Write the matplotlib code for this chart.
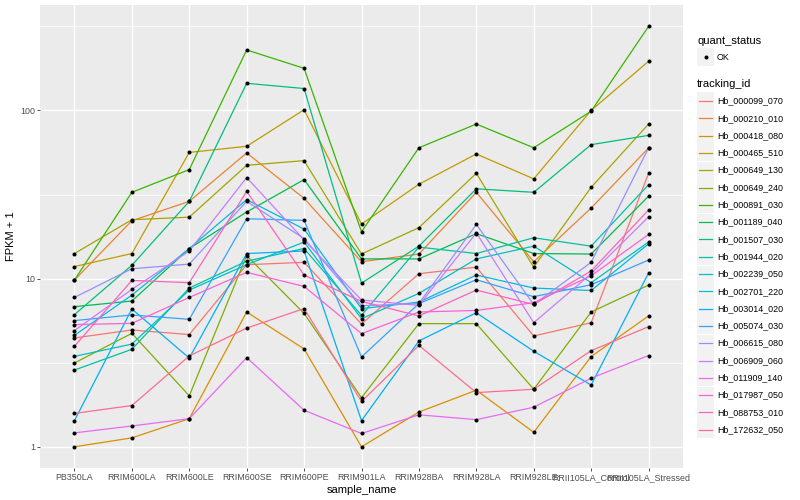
import numpy as np
import matplotlib.pyplot as plt
from matplotlib.patches import Rectangle
from matplotlib.lines import Line2D

plt.rcParams['font.family'] = ['Liberation Sans', 'DejaVu Sans']

samples = ['PB350LA', 'RRIM600LA', 'RRIM600LE', 'RRIM600SE', 'RRIM600PE', 'RRIM901LA',
           'RRIM928BA', 'RRIM928LA', 'RRIM928LE', 'RRII105LA_Control', 'RRII105LA_Stressed']

tracking_ids = ['Hb_000099_070', 'Hb_000210_010', 'Hb_000418_080', 'Hb_000465_510',
                'Hb_000649_130', 'Hb_000649_240', 'Hb_000891_030', 'Hb_001189_040',
                'Hb_001507_030', 'Hb_001944_020', 'Hb_002239_050', 'Hb_002701_220',
                'Hb_003014_020', 'Hb_005074_030', 'Hb_006615_080', 'Hb_006909_060',
                'Hb_011909_140', 'Hb_017987_050', 'Hb_088753_010', 'Hb_172632_050']

# ggplot default hue palette for 20 levels
colors = ['#F8766D', '#EA8331', '#D89000', '#C09B00', '#A3A500', '#7CAE00', '#39B600',
          '#00BB4E', '#00BF7D', '#00C1A3', '#00BFC4', '#00BAE0', '#00B0F6', '#35A2FF',
          '#9590FF', '#C77CFF', '#E76BF3', '#FA62DB', '#FF62BC', '#FF6C91']

# FPKM + 1 per sample
hb_000099_070 = [4.44, 4.95, 4.65, 12.1, 12.5, 5.37, 10.7, 11.7, 4.56, 5.47, 42.3]
hb_000210_010 = [9.8, 22.1, 28.8, 55.9, 30.0, 12.6, 14.0, 32.6, 12.6, 26.3, 59.8]
hb_000418_080 = [1.00, 1.13, 1.47, 6.33, 3.82, 1.00, 1.61, 2.17, 1.22, 3.44, 6.0]
hb_000465_510 = [11.8, 14.1, 56.3, 61.2, 101, 21.1, 36.4, 55.1, 39.2, 100, 196]
hb_000649_130 = [14.1, 22.4, 23.2, 47.2, 50.3, 14.0, 20.1, 42.3, 11.7, 34.9, 83]
hb_000649_240 = [3.15, 4.73, 2.01, 13.7, 6.21, 1.96, 5.40, 5.40, 2.20, 6.33, 9.15]
hb_000891_030 = [9.8, 32.6, 44.5, 229, 178, 19.0, 60, 83, 60, 99, 316]
hb_001189_040 = [6.81, 7.36, 15.1, 24.9, 38.8, 13.1, 13.1, 18.5, 14.1, 14.0, 30.9]
hb_001507_030 = [6.11, 12.0, 28.8, 145, 135, 9.4, 15.6, 34.2, 32.6, 62.6, 71.1]
hb_001944_020 = [2.86, 3.80, 8.79, 12.7, 15.1, 6.05, 15.4, 14.1, 17.5, 15.6, 36.2]
hb_002239_050 = [3.45, 4.08, 8.55, 12.1, 16.5, 5.78, 8.17, 13.1, 15.6, 9.46, 16.5]
hb_002701_220 = [4.60, 7.98, 15.1, 29.5, 19.7, 6.63, 7.25, 10.5, 8.79, 8.5, 16.1]
hb_003014_020 = [1.43, 6.60, 3.37, 14.1, 14.6, 1.43, 4.26, 6.27, 3.70, 2.33, 10.8]
hb_005074_030 = [5.63, 6.08, 5.73, 22.7, 22.2, 3.42, 7.11, 9.85, 7.81, 9.2, 12.9]
hb_006615_080 = [7.73, 11.45, 12.2, 28.8, 17.3, 6.9, 7.11, 21.0, 7.02, 12.5, 59.8]
hb_006909_060 = [4.91, 8.63, 14.6, 39.9, 17.0, 7.46, 6.93, 18.7, 5.47, 10.7, 23.3]
hb_011909_140 = [1.21, 1.33, 1.47, 3.39, 1.65, 1.20, 1.55, 1.45, 1.72, 2.56, 3.49]
hb_017987_050 = [5.33, 5.42, 7.73, 10.9, 8.99, 4.71, 6.33, 6.47, 7.19, 10.4, 18.3]
hb_088753_010 = [3.96, 9.76, 9.46, 33.0, 10.5, 7.32, 6.0, 8.55, 7.02, 11.1, 25.6]
hb_172632_050 = [1.58, 1.76, 3.47, 5.08, 6.64, 1.86, 4.01, 2.10, 2.20, 3.73, 5.18]

series = [hb_000099_070, hb_000210_010, hb_000418_080, hb_000465_510, hb_000649_130,
          hb_000649_240, hb_000891_030, hb_001189_040, hb_001507_030, hb_001944_020,
          hb_002239_050, hb_002701_220, hb_003014_020, hb_005074_030, hb_006615_080,
          hb_006909_060, hb_011909_140, hb_017987_050, hb_088753_010, hb_172632_050]

W, H = 800, 500
fig = plt.figure(figsize=(8, 5), dpi=100)
ax = fig.add_axes([40 / W, 1 - 468 / H, (683 - 40) / W, (468 - 5) / H])
ax.set_facecolor('#EBEBEB')
for s in ax.spines.values():
    s.set_visible(False)

x = np.arange(len(samples))
for vals, col in zip(series, colors):
    ax.plot(x, vals, color=col, lw=0.9, zorder=2)
for vals in series:
    ax.plot(x, vals, 'o', color='black', ms=2.9, mew=0, zorder=3)

ax.set_yscale('log')
ax.set_xlim(-0.6, len(samples) - 0.4)
ax.set_ylim(10 ** -0.126, 10 ** 2.627)
ax.set_yticks([1, 10, 100])
ax.set_yticklabels(['1', '10', '100'])
ax.set_yticks([10 ** 0.5, 10 ** 1.5, 10 ** 2.5], minor=True)
ax.set_yticklabels([], minor=True)
ax.set_xticks(x)
ax.set_xticklabels(samples)
ax.xaxis.set_minor_locator(plt.NullLocator())

ax.grid(which='major', color='white', lw=1.0)
ax.grid(which='minor', axis='y', color='white', lw=0.5)
ax.set_axisbelow(True)
ax.tick_params(which='major', length=2, width=0.6, color='#333333',
               labelsize=6.4, labelcolor='#4D4D4D', pad=1.6)
ax.tick_params(which='minor', length=0)

ax.set_xlabel('sample_name', fontsize=8, labelpad=2)
ax.set_ylabel('FPKM + 1', fontsize=8, labelpad=3)

# legends on the right, ggplot style
def fx(px):
    return px / W

def fy(py):
    return 1 - py / H

key_w, key_h = 17, 17
fig.text(fx(697), fy(41), 'quant_status', fontsize=8, va='center', ha='left')
fig.add_artist(Rectangle((fx(697), fy(57 + key_h / 2)), key_w / W, key_h / H,
                         transform=fig.transFigure, facecolor='#F2F2F2', edgecolor='none'))
fig.add_artist(Line2D([fx(705.5)], [fy(57)], marker='o', ms=2.9, mew=0, color='black',
                      transform=fig.transFigure))
fig.text(fx(717), fy(57), 'OK', fontsize=6.4, va='center', ha='left')

fig.text(fx(697), fy(84), 'tracking_id', fontsize=8, va='center', ha='left')
for i, (tid, col) in enumerate(zip(tracking_ids, colors)):
    yc = 101 + 17.3 * i
    fig.add_artist(Rectangle((fx(697), fy(yc + key_h / 2)), key_w / W, key_h / H,
                             transform=fig.transFigure, facecolor='#F2F2F2', edgecolor='none'))
    fig.add_artist(Line2D([fx(699), fx(712)], [fy(yc), fy(yc)], color=col, lw=0.9,
                          transform=fig.transFigure))
    fig.text(fx(717), fy(yc), tid, fontsize=6.4, va='center', ha='left')

fig.savefig('out.png', dpi=100)
